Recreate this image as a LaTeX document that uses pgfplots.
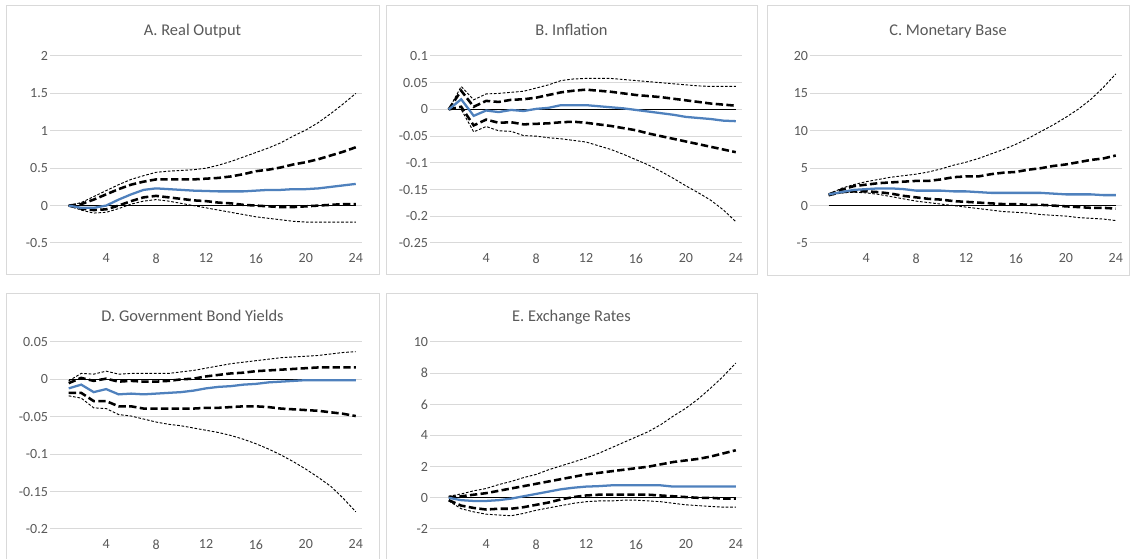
\documentclass[border=0pt]{standalone}
\usepackage{pgfplots}
\usepackage{pgfplotstable}
\pgfplotsset{compat=1.18}
\usepackage{fontspec}
\setmainfont{Carlito}
\definecolor{txt}{HTML}{595959}
\definecolor{gridc}{HTML}{D9D9D9}
\definecolor{boxc}{HTML}{D9D9D9}
\definecolor{med}{HTML}{4F81BD}

\pgfplotstableread{
t med hia loa hib lob
1 0 0 0 0 0
2 -0.03 0.02 -0.04 0.04 -0.06
3 -0.03 0.08 -0.06 0.12 -0.10
4 0.00 0.15 -0.05 0.20 -0.09
5 0.08 0.22 0.00 0.28 -0.04
6 0.15 0.28 0.06 0.35 0.02
7 0.21 0.32 0.11 0.40 0.06
8 0.23 0.35 0.13 0.445 0.08
9 0.22 0.35 0.11 0.46 0.06
10 0.21 0.35 0.09 0.47 0.03
11 0.20 0.35 0.07 0.48 0.00
12 0.195 0.36 0.06 0.50 -0.03
13 0.19 0.37 0.04 0.54 -0.06
14 0.19 0.39 0.03 0.59 -0.09
15 0.19 0.42 0.01 0.65 -0.12
16 0.20 0.46 0.00 0.71 -0.15
17 0.21 0.48 -0.01 0.77 -0.17
18 0.21 0.51 -0.02 0.84 -0.19
19 0.22 0.55 -0.02 0.93 -0.21
20 0.22 0.58 -0.01 1.01 -0.22
21 0.23 0.62 0.00 1.11 -0.22
22 0.25 0.67 0.01 1.23 -0.22
23 0.27 0.72 0.02 1.36 -0.22
24 0.29 0.78 0.02 1.50 -0.22
}\tabA

\pgfplotstableread{
t med hia loa hib lob
1 0 0 0 0 0
2 0.019 0.035 0.005 0.043 0.000
3 -0.012 0.005 -0.030 0.018 -0.042
4 -0.002 0.016 -0.019 0.029 -0.032
5 -0.005 0.014 -0.025 0.030 -0.040
6 -0.001 0.018 -0.024 0.032 -0.041
7 -0.003 0.019 -0.028 0.034 -0.049
8 0.001 0.022 -0.027 0.040 -0.050
9 0.003 0.027 -0.026 0.046 -0.053
10 0.008 0.032 -0.024 0.054 -0.055
11 0.008 0.035 -0.023 0.057 -0.058
12 0.008 0.037 -0.025 0.058 -0.061
13 0.006 0.035 -0.028 0.058 -0.068
14 0.004 0.033 -0.031 0.058 -0.075
15 0.002 0.030 -0.035 0.056 -0.084
16 -0.001 0.027 -0.039 0.054 -0.094
17 -0.004 0.025 -0.045 0.052 -0.104
18 -0.007 0.023 -0.050 0.050 -0.116
19 -0.010 0.020 -0.055 0.048 -0.129
20 -0.014 0.017 -0.060 0.046 -0.143
21 -0.016 0.014 -0.065 0.044 -0.156
22 -0.018 0.011 -0.070 0.043 -0.170
23 -0.021 0.009 -0.075 0.043 -0.188
24 -0.022 0.007 -0.080 0.043 -0.210
}\tabB

\pgfplotstableread{
t med hia loa hib lob
1 1.5 1.5 1.4 1.5 1.3
2 1.8 2.1 1.8 2.3 1.7
3 2.1 2.6 1.9 2.8 1.8
4 2.2 2.8 1.9 3.2 1.7
5 2.3 3.0 1.8 3.5 1.5
6 2.3 3.1 1.6 3.8 1.2
7 2.2 3.2 1.3 4.0 0.9
8 2.0 3.3 1.1 4.2 0.6
9 2.0 3.3 0.9 4.5 0.4
10 2.0 3.5 0.8 4.9 0.2
11 1.9 3.8 0.6 5.4 0.0
12 1.9 3.9 0.5 5.8 -0.2
13 1.8 3.9 0.4 6.3 -0.4
14 1.7 4.2 0.3 6.9 -0.6
15 1.7 4.4 0.2 7.5 -0.8
16 1.7 4.5 0.2 8.2 -0.9
17 1.7 4.8 0.1 9.0 -1.0
18 1.7 5.0 0.1 9.9 -1.2
19 1.6 5.3 0.0 10.8 -1.3
20 1.5 5.5 -0.1 11.8 -1.4
21 1.5 5.8 -0.2 12.9 -1.6
22 1.5 6.1 -0.3 14.2 -1.7
23 1.4 6.3 -0.3 15.8 -1.8
24 1.4 6.7 -0.4 17.6 -2.0
}\tabC

\pgfplotstableread{
t med hia loa hib lob
1 -0.012 -0.005 -0.018 -0.002 -0.022
2 -0.007 0.002 -0.018 0.008 -0.025
3 -0.017 -0.002 -0.029 0.007 -0.038
4 -0.013 0.001 -0.029 0.011 -0.039
5 -0.020 -0.003 -0.036 0.007 -0.047
6 -0.019 -0.002 -0.036 0.008 -0.049
7 -0.020 -0.003 -0.039 0.008 -0.053
8 -0.019 -0.003 -0.039 0.008 -0.057
9 -0.018 -0.002 -0.039 0.008 -0.060
10 -0.017 0.000 -0.039 0.010 -0.062
11 -0.015 0.001 -0.039 0.012 -0.065
12 -0.012 0.004 -0.038 0.015 -0.068
13 -0.010 0.006 -0.038 0.018 -0.071
14 -0.009 0.008 -0.037 0.021 -0.075
15 -0.007 0.009 -0.036 0.023 -0.080
16 -0.006 0.011 -0.036 0.025 -0.086
17 -0.004 0.012 -0.037 0.027 -0.093
18 -0.003 0.013 -0.039 0.029 -0.101
19 -0.002 0.014 -0.040 0.030 -0.110
20 -0.001 0.015 -0.041 0.031 -0.120
21 -0.001 0.016 -0.042 0.032 -0.131
22 -0.001 0.016 -0.044 0.034 -0.143
23 -0.001 0.016 -0.046 0.036 -0.159
24 -0.001 0.016 -0.049 0.037 -0.177
}\tabD

\pgfplotstableread{
t med hia loa hib lob
1 0.00 0.05 -0.15 0.10 -0.20
2 -0.15 0.10 -0.50 0.25 -0.70
3 -0.20 0.20 -0.65 0.45 -0.90
4 -0.20 0.30 -0.75 0.60 -1.05
5 -0.15 0.45 -0.70 0.85 -1.10
6 -0.05 0.60 -0.70 1.05 -1.15
7 0.10 0.75 -0.60 1.30 -1.00
8 0.25 0.90 -0.45 1.50 -0.80
9 0.40 1.05 -0.30 1.80 -0.65
10 0.55 1.20 -0.10 2.05 -0.50
11 0.65 1.35 0.05 2.30 -0.35
12 0.72 1.50 0.15 2.55 -0.25
13 0.75 1.60 0.20 2.85 -0.20
14 0.80 1.70 0.20 3.20 -0.20
15 0.80 1.80 0.20 3.55 -0.15
16 0.80 1.90 0.20 3.90 -0.15
17 0.80 2.00 0.20 4.25 -0.20
18 0.80 2.15 0.15 4.70 -0.25
19 0.72 2.30 0.10 5.25 -0.35
20 0.72 2.40 0.05 5.75 -0.45
21 0.72 2.50 0.00 6.35 -0.50
22 0.72 2.65 0.00 7.05 -0.55
23 0.72 2.85 -0.05 7.80 -0.60
24 0.72 3.05 -0.05 8.65 -0.60
}\tabE

\pgfplotsset{
  irf/.style={
    scale only axis, width=234pt, height=140.25pt, anchor=south west,
    xmin=-0.5, xmax=24.5, xtick={4,8,12,16,20,24},
    axis line style={draw=none}, major tick length=0pt,
    ymajorgrids, grid style={gridc, line width=0.75pt},
    tick label style={font=\fontsize{10.5}{12}\selectfont, text=txt},
    xticklabel style={yshift=-4.5pt},
    yticklabel style={xshift=2pt},
    scaled y ticks=false, scaled x ticks=false,
    /pgf/number format/assume math mode=true,
    clip=true,
  },
  zl/.style={black, line width=0.9pt},
  b68/.style={black, line width=1.9pt, dash pattern=on 5.5pt off 2.5pt},
  b90/.style={black, line width=0.7pt, dash pattern=on 2pt off 1.3pt},
  bmed/.style={med, line width=1.7pt},
}

\newcommand{\irfplots}[1]{%
  \addplot[b90] table[x=t,y=hib]{#1};
  \addplot[b90] table[x=t,y=lob]{#1};
  \addplot[b68] table[x=t,y=hia]{#1};
  \addplot[b68] table[x=t,y=loa]{#1};
  \addplot[zl] coordinates {(1,0) (24,0)};
  \addplot[bmed] table[x=t,y=med]{#1};
}

\begin{document}
\begin{tikzpicture}
\useasboundingbox (0,0) rectangle (847.5pt,419.25pt);
\fill[white] (0,0) rectangle (847.5pt,419.25pt);
% boxes
\draw[boxc, line width=0.75pt] (4.5pt,213pt) rectangle (284.25pt,414.75pt);
\draw[boxc, line width=0.75pt] (289.5pt,213pt) rectangle (567.75pt,414.75pt);
\draw[boxc, line width=0.75pt] (575.25pt,212.25pt) rectangle (846.75pt,414.75pt);
\draw[boxc, line width=0.75pt] (4.5pt,-3pt) rectangle (284.25pt,198.75pt);
\draw[boxc, line width=0.75pt] (289.5pt,-3pt) rectangle (567.75pt,198.75pt);
% titles
\begin{scope}[every node/.style={anchor=base, text=txt, font=\fontsize{12.3}{14}\selectfont, inner sep=0pt}]
\node at (144.4pt,392.25pt) {A. Real Output};
\node at (428.6pt,392.25pt) {B. Inflation};
\node at (711pt,392.25pt) {C. Monetary Base};
\node at (144.4pt,177.75pt) {D. Government Bond Yields};
\node at (428.6pt,177.75pt) {E. Exchange Rates};
\end{scope}

\begin{axis}[irf, at={(37.5pt,237pt)}, ymin=-0.5, ymax=2,
  ytick={-0.5,0,0.5,1,1.5,2}, yticklabels={-0.5,0,0.5,1,1.5,2}]
\irfplots{\tabA}
\end{axis}

\begin{axis}[irf, at={(322.5pt,237pt)}, ymin=-0.25, ymax=0.1,
  ytick={-0.25,-0.2,-0.15,-0.1,-0.05,0,0.05,0.1},
  yticklabels={-0.25,-0.2,-0.15,-0.1,-0.05,0,0.05,0.1}]
\irfplots{\tabB}
\end{axis}

\begin{axis}[irf, at={(607.5pt,237pt)}, ymin=-5, ymax=20,
  ytick={-5,0,5,10,15,20}, yticklabels={-5,0,5,10,15,20}]
\irfplots{\tabC}
\end{axis}

\begin{axis}[irf, at={(37.5pt,22.5pt)}, ymin=-0.2, ymax=0.05,
  ytick={-0.2,-0.15,-0.1,-0.05,0,0.05},
  yticklabels={-0.2,-0.15,-0.1,-0.05,0,0.05}]
\irfplots{\tabD}
\end{axis}

\begin{axis}[irf, at={(322.5pt,22.5pt)}, ymin=-2, ymax=10,
  ytick={-2,0,2,4,6,8,10}, yticklabels={-2,0,2,4,6,8,10}]
\irfplots{\tabE}
\end{axis}
\end{tikzpicture}
\end{document}
